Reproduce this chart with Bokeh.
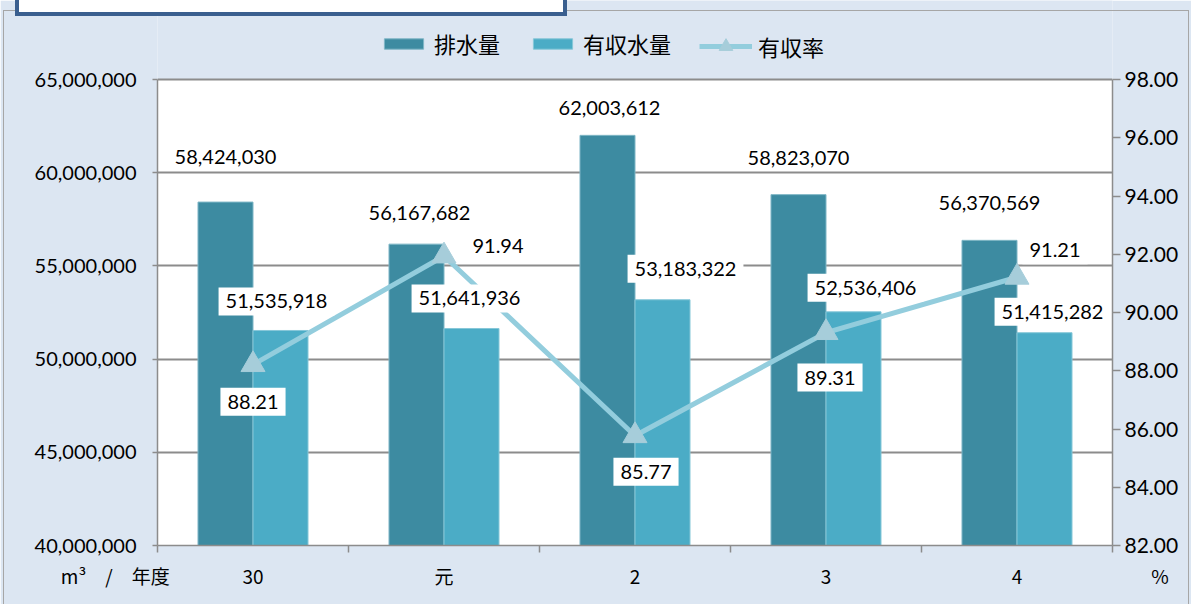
from bokeh.plotting import figure
from bokeh.models import (ColumnDataSource, Range1d, LinearAxis, FixedTicker,
                          NumeralTickFormatter, Legend, LegendItem, InlineStyleSheet)
from bokeh.core.properties import value
from bokeh.transform import dodge
from bokeh.embed import file_html
from bokeh.resources import INLINE

# ---- data ----
years = ["30", "元", "2", "3", "4"]
haisui = [58424030, 56167682, 62003612, 58823070, 56370569]      # 排水量
yushu = [51535918, 51641936, 53183322, 52536406, 51415282]       # 有収水量
rate = [88.21, 91.94, 85.77, 89.31, 91.21]                       # 有収率
left_ticks = [40000000, 45000000, 50000000, 55000000, 60000000, 65000000]
right_ticks = [82, 84, 86, 88, 90, 92, 94, 96, 98]
series_names = ["排水量", "有収水量", "有収率"]
x_unit = "m³\u3000/\u3000年度"
y2_unit = "%"

# ---- layout / label placement (pixels, style only) ----
W, H = 1191, 604
PLOT_TOP, PLOT_BOTTOM, PLOT_LEFT, PLOT_RIGHT = 79, 545, 157, 1112
h_dx = [0, 3, 2, 0, 0]
h_dy = [-45, -31, -27, -37, -37]
y_dx = [-4, -2, 23, 12, 8]
y_dy = [-29, -30, -31, -24, -21]
r_dx = [0, 54, 11, 4, 38]
r_dy = [37, -10, 36, 45, -27]

DARK = "#3D8BA1"
LIGHT = "#4BACC6"
LINE = "#93CDDD"
TRI = "#A6CDDA"
BG = "#DCE6F2"
GRID = "#8C8C8C"
FONT = "Lato"
CJK = "Noto Sans CJK JP"

xs = list(range(len(years)))
src = ColumnDataSource(dict(
    x=xs, haisui=haisui, yushu=yushu, rate=rate,
    h_txt=[f"{v:,}" for v in haisui],
    y_txt=[f"{v:,}" for v in yushu],
    r_txt=[f"{v:.2f}" for v in rate],
    h_dx=h_dx, h_dy=h_dy, y_dx=y_dx, y_dy=y_dy, r_dx=r_dx, r_dy=r_dy,
))

# the frame reaches the top of the canvas; the white plotting area is 79px below it
plot_h = PLOT_BOTTOM - PLOT_TOP
l0, l1 = left_ticks[0], left_ticks[-1]
r0, r1 = right_ticks[0], right_ticks[-1]
l_top = l1 + (l1 - l0) * PLOT_TOP / plot_h
r_top = r1 + (r1 - r0) * PLOT_TOP / plot_h

css = """
:host::before { content: ""; position: absolute; left: 3px; top: 10px; width: 1186px; height: 640px;
  border: 1.5px solid #A6A6A6; box-sizing: border-box; pointer-events: none; z-index: 5; }
:host::after { content: ""; position: absolute; left: 15px; top: -12px; width: 552px; height: 28px;
  background: #ffffff; border: 4px solid #3A5F8F; box-sizing: border-box; pointer-events: none; z-index: 6; }
"""

lo, hi = -0.5, len(years) - 0.5
p = figure(width=W, height=H, output_backend="svg", toolbar_location=None,
           x_range=Range1d(lo, hi), y_range=Range1d(l0, l_top),
           min_border_left=PLOT_LEFT, min_border_right=W - PLOT_RIGHT,
           min_border_top=0, min_border_bottom=H - PLOT_BOTTOM)
p.stylesheets = [InlineStyleSheet(css=css)]
p.extra_y_ranges = {"pct": Range1d(r0, r_top)}
p.background_fill_color = BG
p.border_fill_color = BG
p.outline_line_color = None

# white plotting area
p.quad(left=[lo], right=[hi], bottom=[l0], top=[l1], fill_color="white", line_color=None,
       level="image")

bw = 0.288
b1 = p.vbar(x=dodge("x", -bw / 2, range=p.x_range), top="haisui", bottom=l0,
            width=bw, source=src, fill_color=DARK, line_color="#7FB6C6", line_width=1)
b2 = p.vbar(x=dodge("x", bw / 2, range=p.x_range), top="yushu", bottom=l0,
            width=bw, source=src, fill_color=LIGHT, line_color="#86C7D8", line_width=1)
ln = p.line(x="x", y="rate", source=src, y_range_name="pct", line_color=LINE, line_width=5)
mk = p.scatter(x="x", y="rate", source=src, y_range_name="pct", marker="triangle",
               size=24, fill_color=TRI, line_color=TRI)

# data labels
p.text(x=dodge("x", -bw / 2, range=p.x_range), y="haisui", text="h_txt", source=src,
       x_offset="h_dx", y_offset="h_dy", text_align="center", text_baseline="middle",
       text_font=value(FONT), text_font_size="20px", text_color="black")
p.text(x=dodge("x", bw / 2, range=p.x_range), y="yushu", text="y_txt", source=src,
       x_offset="y_dx", y_offset="y_dy", text_align="center", text_baseline="middle",
       text_font=value(FONT), text_font_size="20px", text_color="black",
       background_fill_color="white", padding=7)
p.text(x="x", y="rate", y_range_name="pct", text="r_txt", source=src,
       x_offset="r_dx", y_offset="r_dy", text_align="center", text_baseline="middle",
       text_font=value(FONT), text_font_size="20px", text_color="black",
       background_fill_color="white", padding=7)

# axes
p.xaxis.ticker = FixedTicker(ticks=[lo] + xs + [hi],
                             minor_ticks=[i - 0.5 for i in range(len(years) + 1)])
overrides = {i: t for i, t in enumerate(years)}
overrides[lo] = x_unit + "\u3000" * 4 + "\u00a0\u00a0"
overrides[hi] = "\u3000" * 5 + y2_unit
p.xaxis.major_label_overrides = overrides
p.xaxis.major_tick_out = 0
p.xaxis.major_tick_in = 0
p.xaxis.minor_tick_out = 7
p.xaxis.minor_tick_in = 0
p.xaxis.major_label_standoff = 9

p.yaxis.ticker = FixedTicker(ticks=left_ticks, minor_ticks=[])
p.yaxis.formatter = NumeralTickFormatter(format="0,0")
p.yaxis.bounds = (l0, l1)
p.yaxis.major_tick_out = 5
p.yaxis.major_tick_in = 0
p.yaxis.major_label_standoff = 16

ra = LinearAxis(y_range_name="pct", ticker=FixedTicker(ticks=right_ticks, minor_ticks=[]),
                formatter=NumeralTickFormatter(format="0.00"), bounds=(r0, r1))
ra.major_tick_out = 8
ra.major_tick_in = 0
ra.major_label_standoff = 4
p.add_layout(ra, "right")

for ax in [p.xaxis[0], p.yaxis[0], ra]:
    ax.axis_line_color = GRID
    ax.axis_line_width = 1.5
    ax.major_tick_line_color = GRID
    ax.major_tick_line_width = 1.5
    ax.major_label_text_font = FONT
    ax.major_label_text_font_size = "20px"
    ax.major_label_text_color = "black"
    ax.minor_tick_line_color = GRID if ax is p.xaxis[0] else None
    ax.minor_tick_line_width = 1.5
ra.major_label_text_font_size = "21px"
p.xaxis.major_label_text_font = CJK
p.xaxis.major_label_text_font_size = "19px"

p.xgrid.grid_line_color = None
p.ygrid.ticker = FixedTicker(ticks=left_ticks)
p.ygrid.grid_line_color = GRID
p.ygrid.grid_line_width = 2

# legends (inside the extended frame, above the white plotting area)
common = dict(orientation="horizontal", label_standoff=6, spacing=28, padding=0, margin=0,
              border_line_color=None, background_fill_alpha=0, label_text_font=CJK,
              label_text_font_size="22px", label_height=26, label_text_color="black")
leg_a = Legend(items=[LegendItem(label=series_names[0], renderers=[b1]),
                      LegendItem(label=series_names[1], renderers=[b2])],
               location=(379 - PLOT_LEFT, PLOT_BOTTOM - 59),
               glyph_width=49, glyph_height=13, **common)
leg_b = Legend(items=[LegendItem(label=series_names[2], renderers=[ln, mk])],
               location=(699 - PLOT_LEFT, PLOT_BOTTOM - 63),
               glyph_width=53, glyph_height=34, **common)
p.add_layout(leg_a)
p.add_layout(leg_b)

open("out.html", "w").write(file_html(p, INLINE))
